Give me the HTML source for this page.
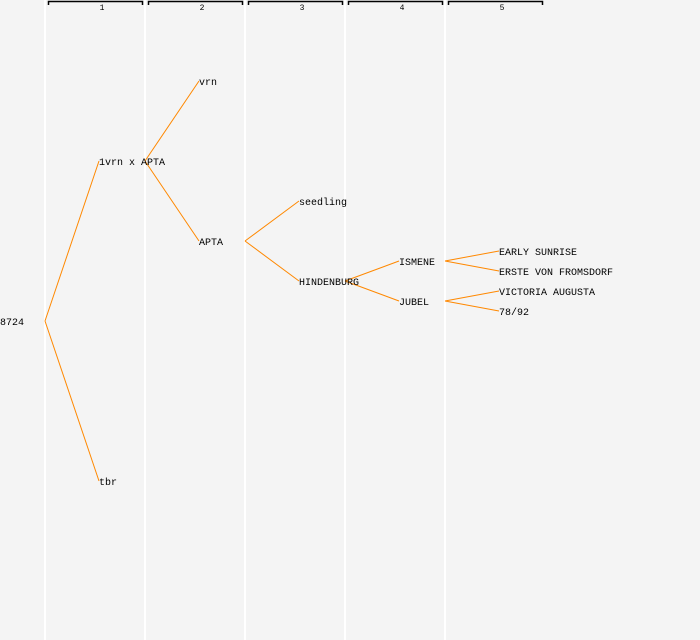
<!DOCTYPE html>
<html><head><style>html,body{margin:0;background:#f4f4f4;overflow:hidden;width:700px;height:640px}svg{display:block}</style></head><body>
<svg width="700" height="640" xmlns="http://www.w3.org/2000/svg" font-family="Liberation Mono, DejaVu Sans Mono, monospace" font-size="10">
<rect width="700" height="640" fill="#f4f4f4"/>
<g stroke="#ffffff" stroke-width="2">
<line x1="45" y1="0" x2="45" y2="640"/><line x1="145" y1="0" x2="145" y2="640"/><line x1="245" y1="0" x2="245" y2="640"/><line x1="345" y1="0" x2="345" y2="640"/><line x1="445" y1="0" x2="445" y2="640"/>
</g>
<g stroke="#000" fill="none" stroke-width="1.5">
<path d="M48.5,5V1.5H142.5V5"/><path d="M148.5,5V1.5H242.5V5"/><path d="M248.5,5V1.5H342.5V5"/><path d="M348.5,5V1.5H442.5V5"/><path d="M448.5,5V1.5H542.5V5"/>
</g>
<g font-size="8" text-anchor="middle" fill="#000">
<text x="102" y="10">1</text><text x="202" y="10">2</text><text x="302" y="10">3</text><text x="402" y="10">4</text><text x="502" y="10">5</text>
</g>
<g stroke="#ff8800" stroke-width="1" fill="none">
<path d="M45,321L99,161M45,321L99,481"/>
<path d="M145,161L199,81M145,161L199,241"/>
<path d="M245,241L299,201M245,241L299,281"/>
<path d="M345,281L399,261M345,281L399,301"/>
<path d="M445,261L499,251M445,261L499,271"/>
<path d="M445,301L499,291M445,301L499,311"/>
</g>
<g fill="#000">
<text x="0" y="325">8724</text>
<text x="99" y="165">1vrn x APTA</text>
<text x="99" y="485">tbr</text>
<text x="199" y="85">vrn</text>
<text x="199" y="245">APTA</text>
<text x="299" y="205">seedling</text>
<text x="299" y="285">HINDENBURG</text>
<text x="399" y="265">ISMENE</text>
<text x="399" y="305">JUBEL</text>
<text x="499" y="255">EARLY SUNRISE</text>
<text x="499" y="275">ERSTE VON FROMSDORF</text>
<text x="499" y="295">VICTORIA AUGUSTA</text>
<text x="499" y="315">78/92</text>
</g>
</svg>
</body></html>
